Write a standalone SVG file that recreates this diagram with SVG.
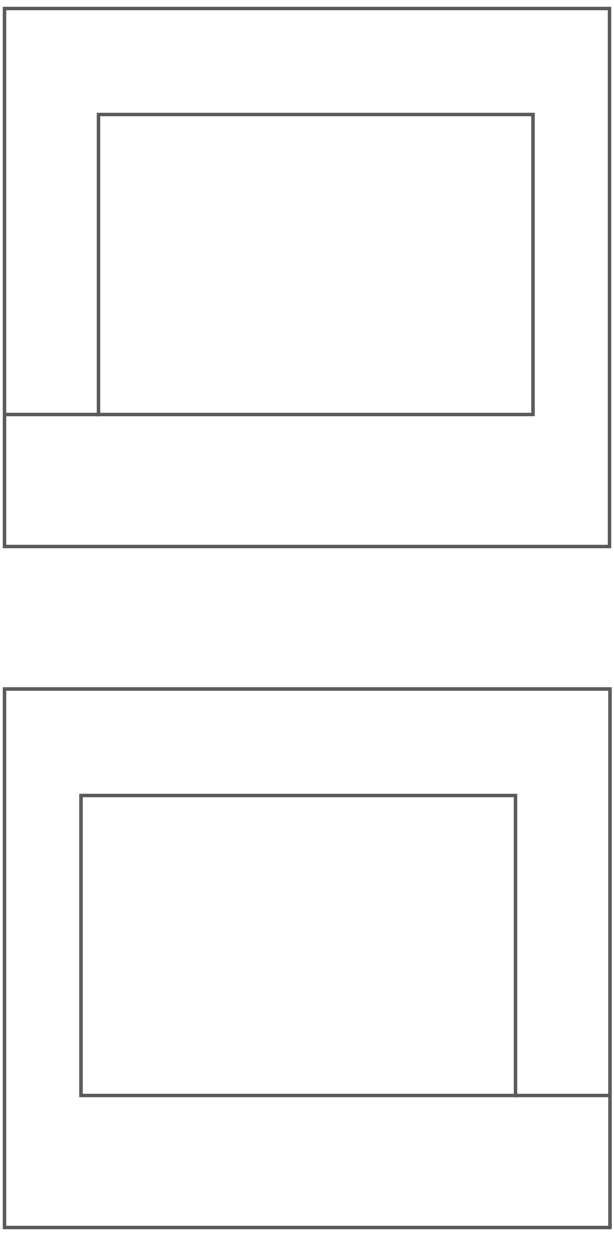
<svg xmlns="http://www.w3.org/2000/svg" width="614" height="1235" viewBox="0 0 614 1235">
<style>
.s{fill:none;stroke:#595959;stroke-width:3.5}
</style>
<rect width="614" height="1235" fill="#ffffff"/>
<g id="outer1"><rect class="s" x="4.5" y="8.5" width="605" height="538"/></g>
<g id="inner1"><rect class="s" x="98.5" y="114.5" width="434.5" height="300"/></g>
<g id="outer2"><rect class="s" x="4.5" y="689" width="605.5" height="538.5"/></g>
<g id="inner2"><rect class="s" x="81" y="795.5" width="434.5" height="300"/></g>
<g id="connectors">
<line class="s" x1="4.5" y1="414.5" x2="98.5" y2="414.5"/>
<line class="s" x1="515.5" y1="1095.5" x2="610" y2="1095.5"/>
</g>
</svg>
